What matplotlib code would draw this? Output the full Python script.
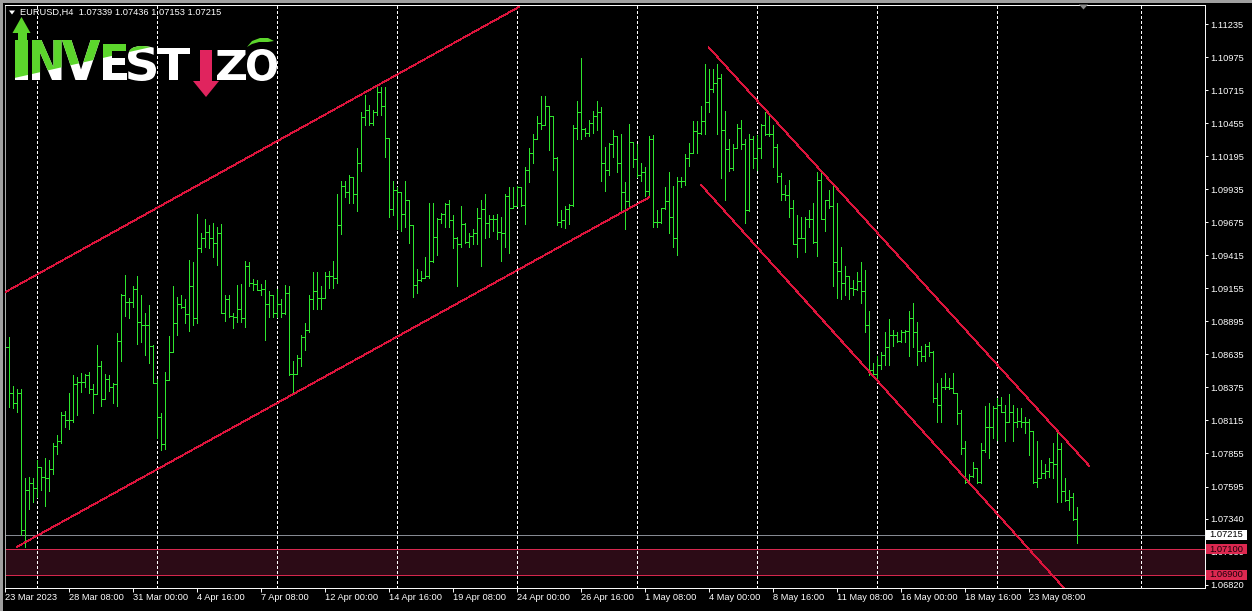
import numpy as np
import matplotlib
matplotlib.use("Agg")
import matplotlib.pyplot as plt
from matplotlib.collections import LineCollection
from matplotlib.patches import Rectangle, Polygon, PathPatch
from matplotlib.textpath import TextPath
from matplotlib.font_manager import FontProperties
from matplotlib.transforms import IdentityTransform, Affine2D, blended_transform_factory

W, H, DPI = 1252, 611, 100

symbol = "EURUSD,H4"

opens = [1.0899, 1.0869, 1.0833, 1.0825, 1.0833, 1.0725, 1.0757, 1.0762, 1.0758, 1.0775,
 1.0767, 1.0766, 1.0773, 1.0791, 1.0795, 1.0816, 1.0812, 1.0812, 1.0840, 1.0842,
 1.0842, 1.0847, 1.0836, 1.0832, 1.0854, 1.0828, 1.0844, 1.0838, 1.0840, 1.0874,
 1.0910, 1.0905, 1.0905, 1.0915, 1.0889, 1.0887, 1.0887, 1.0870, 1.0841, 1.0814,
 1.0793, 1.0843, 1.0865, 1.0888, 1.0903, 1.0901, 1.0895, 1.0917, 1.0892, 1.0947,
 1.0955, 1.0960, 1.0955, 1.0951, 1.0959, 1.0896, 1.0907, 1.0894, 1.0893, 1.0899,
 1.0892, 1.0933, 1.0920, 1.0919, 1.0914, 1.0915, 1.0903, 1.0910, 1.0896, 1.0903,
 1.0896, 1.0912, 1.0848, 1.0848, 1.0861, 1.0877, 1.0883, 1.0907, 1.0913, 1.0908,
 1.0908, 1.0925, 1.0925, 1.0924, 1.0965, 1.0996, 1.0991, 1.1003, 1.0990, 1.1014,
 1.1050, 1.1056, 1.1046, 1.1054, 1.1070, 1.1059, 1.1034, 1.0978, 1.0993, 1.0991,
 1.0974, 1.0985, 1.0965, 1.0918, 1.0922, 1.0924, 1.0925, 1.0937, 1.0956, 1.0970,
 1.0974, 1.0982, 1.0969, 1.0955, 1.0950, 1.0966, 1.0952, 1.0957, 1.0959, 1.0971,
 1.0978, 1.0967, 1.0970, 1.0970, 1.0960, 1.0959, 1.0988, 1.0979, 1.0980, 1.0995,
 1.0981, 1.1009, 1.1022, 1.1033, 1.1046, 1.1044, 1.1059, 1.1051, 1.1018, 1.0968,
 1.0969, 1.0978, 1.0981, 1.1042, 1.1054, 1.1041, 1.1038, 1.1046, 1.1051, 1.1054,
 1.1014, 1.1009, 1.1029, 1.1035, 1.1014, 1.0991, 1.0984, 1.1031, 1.1017, 1.1005,
 1.1007, 1.0992, 1.1033, 1.0968, 1.0968, 1.0979, 1.0984, 1.0972, 1.0955, 1.1000,
 1.1000, 1.1018, 1.1022, 1.1039, 1.1038, 1.1047, 1.1062, 1.1072, 1.1077, 1.1081,
 1.1040, 1.1025, 1.1010, 1.1026, 1.1042, 1.1029, 1.0977, 1.1033, 1.1018, 1.1026,
 1.1044, 1.1037, 1.1037, 1.1027, 1.1004, 1.0990, 1.0989, 1.0979, 1.0950, 1.0955,
 1.0955, 1.0970, 1.0970, 1.0952, 1.1001, 1.0970, 1.0985, 1.0980, 1.0936, 1.0929,
 1.0920, 1.0925, 1.0916, 1.0915, 1.0921, 1.0913, 1.0887, 1.0851, 1.0848, 1.0855,
 1.0863, 1.0869, 1.0879, 1.0879, 1.0874, 1.0881, 1.0882, 1.0892, 1.0881, 1.0866,
 1.0862, 1.0870, 1.0865, 1.0829, 1.0824, 1.0838, 1.0838, 1.0837, 1.0833, 1.0817,
 1.0790, 1.0763, 1.0768, 1.0774, 1.0763, 1.0788, 1.0806, 1.0806, 1.0821, 1.0824,
 1.0818, 1.0810, 1.0818, 1.0810, 1.0811, 1.0810, 1.0810, 1.0803, 1.0763, 1.0766,
 1.0770, 1.0772, 1.0779, 1.0777, 1.0789, 1.0756, 1.0749, 1.0751, 1.07339]

highs = [1.0908, 1.0877, 1.0839, 1.0836, 1.0836, 1.0766, 1.0767, 1.0766, 1.0780, 1.0775,
 1.0782, 1.0780, 1.0794, 1.0800, 1.0818, 1.0819, 1.0833, 1.0847, 1.0846, 1.0849,
 1.0848, 1.0850, 1.0840, 1.0871, 1.0858, 1.0848, 1.0847, 1.0841, 1.0880, 1.0911,
 1.0926, 1.0908, 1.0917, 1.0925, 1.0910, 1.0896, 1.0902, 1.0871, 1.0844, 1.0817,
 1.0850, 1.0878, 1.0917, 1.0909, 1.0910, 1.0907, 1.0938, 1.0936, 1.0974, 1.0959,
 1.0970, 1.0965, 1.0967, 1.0964, 1.0966, 1.0910, 1.0910, 1.0896, 1.0918, 1.0919,
 1.0937, 1.0936, 1.0923, 1.0922, 1.0919, 1.0922, 1.0913, 1.0910, 1.0915, 1.0907,
 1.0918, 1.0917, 1.0858, 1.0863, 1.0879, 1.0888, 1.0910, 1.0928, 1.0928, 1.0917,
 1.0928, 1.0929, 1.0937, 1.0990, 1.1000, 1.1000, 1.1005, 1.1003, 1.1026, 1.1054,
 1.1068, 1.1060, 1.1056, 1.1076, 1.1074, 1.1074, 1.1034, 1.1000, 1.0995, 1.0985,
 1.1000, 1.0985, 1.0957, 1.0931, 1.0929, 1.0940, 1.0983, 1.0983, 1.0971, 1.0975,
 1.0983, 1.0985, 1.0973, 1.0956, 1.0980, 1.0967, 1.0959, 1.0962, 1.0979, 1.0985,
 1.0990, 1.0973, 1.0973, 1.0974, 1.0972, 1.0990, 1.0995, 1.0995, 1.0996, 1.0995,
 1.1011, 1.1026, 1.1037, 1.1051, 1.1067, 1.1067, 1.1057, 1.1051, 1.1019, 1.0977,
 1.0980, 1.0982, 1.1044, 1.1063, 1.1097, 1.1042, 1.1048, 1.1055, 1.1063, 1.1058,
 1.1027, 1.1030, 1.1040, 1.1035, 1.1037, 1.0999, 1.1045, 1.1031, 1.1029, 1.1014,
 1.1011, 1.1035, 1.1036, 1.0977, 1.0979, 1.0995, 1.1007, 1.0996, 1.1003, 1.1003,
 1.1021, 1.1030, 1.1047, 1.1047, 1.1059, 1.1092, 1.1088, 1.1088, 1.1092, 1.1084,
 1.1055, 1.1033, 1.1029, 1.1045, 1.1048, 1.1033, 1.1037, 1.1035, 1.1036, 1.1045,
 1.1054, 1.1051, 1.1044, 1.1029, 1.1006, 1.0997, 1.1001, 1.0985, 1.0973, 1.0972,
 1.0972, 1.0977, 1.0983, 1.1007, 1.1007, 1.0985, 1.0993, 1.0998, 1.0983, 1.0948,
 1.0933, 1.0925, 1.0922, 1.0928, 1.0936, 1.0930, 1.0898, 1.0857, 1.0862, 1.0865,
 1.0881, 1.0891, 1.0883, 1.0881, 1.0883, 1.0883, 1.0898, 1.0904, 1.0889, 1.0870,
 1.0872, 1.0873, 1.0866, 1.0841, 1.0845, 1.0849, 1.0845, 1.0849, 1.0833, 1.0820,
 1.0795, 1.0769, 1.0779, 1.0774, 1.0794, 1.0823, 1.0825, 1.0823, 1.0829, 1.0830,
 1.0824, 1.0832, 1.0824, 1.0821, 1.0821, 1.0814, 1.0813, 1.0803, 1.0795, 1.0780,
 1.0777, 1.0782, 1.0794, 1.0803, 1.0794, 1.0766, 1.0757, 1.0754, 1.07436]

lows = [1.0863, 1.0822, 1.0821, 1.0818, 1.0721, 1.0712, 1.0742, 1.0747, 1.0751, 1.0757,
 1.0744, 1.0756, 1.0769, 1.0785, 1.0794, 1.0806, 1.0805, 1.0810, 1.0816, 1.0834,
 1.0838, 1.0833, 1.0817, 1.0833, 1.0823, 1.0828, 1.0835, 1.0825, 1.0823, 1.0858,
 1.0894, 1.0892, 1.0901, 1.0872, 1.0873, 1.0863, 1.0857, 1.0841, 1.0798, 1.0788,
 1.0789, 1.0843, 1.0865, 1.0879, 1.0900, 1.0888, 1.0882, 1.0887, 1.0888, 1.0944,
 1.0948, 1.0947, 1.0940, 1.0934, 1.0896, 1.0890, 1.0893, 1.0884, 1.0889, 1.0889,
 1.0885, 1.0917, 1.0914, 1.0914, 1.0910, 1.0875, 1.0893, 1.0893, 1.0893, 1.0893,
 1.0895, 1.0847, 1.0832, 1.0848, 1.0854, 1.0867, 1.0881, 1.0899, 1.0899, 1.0899,
 1.0908, 1.0916, 1.0916, 1.0920, 1.0958, 1.0987, 1.0983, 1.0983, 1.0976, 1.1008,
 1.1044, 1.1044, 1.1044, 1.1052, 1.1052, 1.1019, 1.0972, 1.0973, 1.0962, 1.0961,
 1.0964, 1.0951, 1.0909, 1.0912, 1.0921, 1.0924, 1.0924, 1.0936, 1.0942, 1.0967,
 1.0964, 1.0964, 1.0947, 1.0917, 1.0948, 1.0951, 1.0948, 1.0950, 1.0950, 1.0933,
 1.0955, 1.0956, 1.0961, 1.0954, 1.0937, 1.0948, 1.0943, 1.0979, 1.0980, 1.0980,
 1.0966, 1.0999, 1.1014, 1.1033, 1.1041, 1.1044, 1.1024, 1.1009, 1.0965, 1.0964,
 1.0963, 1.0966, 1.0980, 1.1033, 1.1033, 1.1035, 1.1035, 1.1038, 1.1040, 1.1000,
 1.0992, 1.1005, 1.1019, 1.1007, 1.0976, 1.0962, 1.0979, 1.1011, 1.1003, 1.1000,
 1.0988, 1.0988, 1.0964, 1.0964, 1.0967, 1.0978, 1.0959, 1.0948, 1.0942, 1.0995,
 1.0997, 1.1012, 1.1022, 1.1022, 1.1037, 1.1037, 1.1054, 1.1070, 1.1037, 1.1002,
 1.0985, 1.1008, 1.1009, 1.1026, 1.1025, 1.0967, 1.0976, 1.1010, 1.1009, 1.1018,
 1.1036, 1.1035, 1.1011, 1.0999, 1.0985, 1.0985, 1.0972, 1.0950, 1.0940, 1.0955,
 1.0944, 1.0964, 1.0951, 1.0941, 1.0970, 1.0961, 1.0979, 1.0917, 1.0908, 1.0907,
 1.0910, 1.0907, 1.0910, 1.0914, 1.0904, 1.0881, 1.0847, 1.0847, 1.0845, 1.0852,
 1.0855, 1.0855, 1.0870, 1.0873, 1.0873, 1.0873, 1.0862, 1.0869, 1.0855, 1.0858,
 1.0858, 1.0862, 1.0826, 1.0810, 1.0810, 1.0836, 1.0836, 1.0833, 1.0809, 1.0785,
 1.0762, 1.0762, 1.0767, 1.0762, 1.0762, 1.0787, 1.0782, 1.0798, 1.0796, 1.0818,
 1.0795, 1.0810, 1.0795, 1.0806, 1.0806, 1.0802, 1.0784, 1.0762, 1.0759, 1.0766,
 1.0766, 1.0767, 1.0766, 1.0747, 1.0747, 1.0748, 1.0741, 1.0733, 1.07153]

closes = [1.0869, 1.0833, 1.0825, 1.0833, 1.0725, 1.0757, 1.0762, 1.0758, 1.0775, 1.0767,
 1.0766, 1.0773, 1.0791, 1.0795, 1.0816, 1.0812, 1.0812, 1.0840, 1.0842, 1.0842,
 1.0847, 1.0836, 1.0832, 1.0854, 1.0828, 1.0844, 1.0838, 1.0840, 1.0874, 1.0910,
 1.0905, 1.0905, 1.0915, 1.0889, 1.0887, 1.0887, 1.0870, 1.0841, 1.0814, 1.0793,
 1.0843, 1.0865, 1.0888, 1.0903, 1.0901, 1.0895, 1.0917, 1.0892, 1.0947, 1.0955,
 1.0960, 1.0955, 1.0951, 1.0959, 1.0896, 1.0907, 1.0894, 1.0893, 1.0899, 1.0892,
 1.0933, 1.0920, 1.0919, 1.0914, 1.0915, 1.0903, 1.0910, 1.0896, 1.0903, 1.0896,
 1.0912, 1.0848, 1.0848, 1.0861, 1.0877, 1.0883, 1.0907, 1.0913, 1.0908, 1.0908,
 1.0925, 1.0925, 1.0924, 1.0965, 1.0996, 1.0991, 1.1003, 1.0990, 1.1014, 1.1050,
 1.1056, 1.1046, 1.1054, 1.1070, 1.1059, 1.1034, 1.0978, 1.0993, 1.0991, 1.0974,
 1.0985, 1.0965, 1.0918, 1.0922, 1.0924, 1.0925, 1.0937, 1.0956, 1.0970, 1.0974,
 1.0982, 1.0969, 1.0955, 1.0950, 1.0966, 1.0952, 1.0957, 1.0959, 1.0971, 1.0978,
 1.0967, 1.0970, 1.0970, 1.0960, 1.0959, 1.0988, 1.0979, 1.0980, 1.0995, 1.0981,
 1.1009, 1.1022, 1.1033, 1.1046, 1.1044, 1.1059, 1.1051, 1.1018, 1.0968, 1.0969,
 1.0978, 1.0981, 1.1042, 1.1054, 1.1041, 1.1038, 1.1046, 1.1051, 1.1054, 1.1014,
 1.1009, 1.1029, 1.1035, 1.1014, 1.0991, 1.0984, 1.1031, 1.1017, 1.1005, 1.1007,
 1.0992, 1.1033, 1.0968, 1.0968, 1.0979, 1.0984, 1.0972, 1.0955, 1.1000, 1.1000,
 1.1018, 1.1022, 1.1039, 1.1038, 1.1047, 1.1062, 1.1072, 1.1077, 1.1081, 1.1040,
 1.1025, 1.1010, 1.1026, 1.1042, 1.1029, 1.0977, 1.1033, 1.1018, 1.1026, 1.1044,
 1.1037, 1.1037, 1.1027, 1.1004, 1.0990, 1.0989, 1.0979, 1.0950, 1.0955, 1.0955,
 1.0970, 1.0970, 1.0952, 1.1001, 1.0970, 1.0985, 1.0980, 1.0936, 1.0929, 1.0920,
 1.0925, 1.0916, 1.0915, 1.0921, 1.0913, 1.0887, 1.0851, 1.0848, 1.0855, 1.0863,
 1.0869, 1.0879, 1.0879, 1.0874, 1.0881, 1.0882, 1.0892, 1.0881, 1.0866, 1.0862,
 1.0870, 1.0865, 1.0829, 1.0824, 1.0838, 1.0838, 1.0837, 1.0833, 1.0817, 1.0790,
 1.0763, 1.0768, 1.0774, 1.0763, 1.0788, 1.0806, 1.0806, 1.0821, 1.0824, 1.0818,
 1.0810, 1.0818, 1.0810, 1.0811, 1.0810, 1.0810, 1.0803, 1.0763, 1.0766, 1.0770,
 1.0772, 1.0779, 1.0777, 1.0789, 1.0756, 1.0749, 1.0751, 1.0734, 1.07215]

x_labels = ["23 Mar 2023", "28 Mar 08:00", "31 Mar 00:00", "4 Apr 16:00", "7 Apr 08:00",
            "12 Apr 00:00", "14 Apr 16:00", "19 Apr 08:00", "24 Apr 00:00", "26 Apr 16:00",
            "1 May 08:00", "4 May 00:00", "8 May 16:00", "11 May 08:00", "16 May 00:00",
            "18 May 16:00", "23 May 08:00"]
x_label_bars = [0, 16, 32, 48, 64, 80, 96, 112, 128, 144, 160, 176, 192, 208, 224, 240, 256]
week_grid_bars = [8, 38, 68, 98, 128, 158, 188, 218, 248, 284]
y_ticks = [1.11235, 1.10975, 1.10715, 1.10455, 1.10195, 1.09935, 1.09675, 1.09415, 1.09155,
           1.08895, 1.08635, 1.08375, 1.08115, 1.07855, 1.07595, 1.07340, 1.07080, 1.06820]
bid_price = 1.07215
zone_top, zone_bottom = 1.07100, 1.06900
up_upper = [(-0.3, 1.0912), (128.4, 1.1137)]
up_lower = [(2.9, 1.0712), (160.9, 1.0987)]
down_upper = [(175.9, 1.1105), (270.9, 1.0776)]
down_lower = [(173.9, 1.0997), (267.4, 1.0670)]

assert len(opens) == len(highs) == len(lows) == len(closes)

BAR = "#2ee62e"
RED = "#dc2850"
plt.rcParams["font.family"] = ["Liberation Sans", "DejaVu Sans"]
FS = 6.7

fig = plt.figure(figsize=(W / DPI, H / DPI), dpi=DPI, facecolor="black")
ax = fig.add_axes([4.5 / W, (H - 587.5) / H, 1200 / W, 583 / H], facecolor="black")
ax.set_xlim(-0.21, 299.8)
ax.set_ylim(1.06800, 1.11389)

# zone
ax.axhspan(zone_bottom, zone_top, color="#2c0b16", lw=0, zorder=0.5)
ax.axhline(zone_top, color=RED, lw=0.7, zorder=1)
ax.axhline(zone_bottom, color=RED, lw=0.7, zorder=1)
ax.axhline(bid_price, color="#8a8e96", lw=0.7, zorder=1)

# week grid
for b in week_grid_bars:
    ax.axvline(b, color="white", lw=0.7, ls=(0, (3, 3)), zorder=1.2, antialiased=False)

# OHLC bars
o = np.array(opens); h = np.array(highs); l = np.array(lows); c = np.array(closes)
idx = np.arange(len(c))
lo = np.minimum(l, np.minimum(o, c)); hi = np.maximum(h, np.maximum(o, c))
ax.vlines(idx, lo, hi, color=BAR, lw=0.55, antialiased=False, zorder=2)
seg_o = [[(i - 0.4, oo), (i, oo)] for i, oo in zip(idx, o)]
seg_c = [[(i, cc), (i + 0.4, cc)] for i, cc in zip(idx, c)]
ax.add_collection(LineCollection(seg_o + seg_c, colors=BAR, lw=0.55, antialiased=False, zorder=2))

# channels
for pts in (up_upper, up_lower, down_upper, down_lower):
    xs, ys = zip(*pts)
    ax.plot(xs, ys, color="#dc143c", lw=0.6, zorder=3, antialiased=False)

# axes styling
for s in ax.spines.values():
    s.set_color("white"); s.set_linewidth(0.7)
ax.spines["left"].set_color("#b0b0b0")
ax.yaxis.tick_right()
ax.set_yticks(y_ticks)
ax.set_yticklabels([f"{v:.5f}" for v in y_ticks])
ax.tick_params(axis="y", colors="white", length=2.3, width=0.7, pad=2.0, labelsize=FS, labelcolor="white")
ax.set_xticks(x_label_bars)
ax.set_xticklabels(x_labels, ha="left")
ax.tick_params(axis="x", colors="white", length=3, width=0.7, pad=0.6, labelsize=FS, labelcolor="white")
for t in ax.get_xticklabels():
    t.set_horizontalalignment("left")

# right price boxes
trans = blended_transform_factory(fig.transFigure, ax.transData)
box_h = 0.00078
for price, fc, tc in ((bid_price, "white", "black"), (zone_top, RED, "#1a0008"), (zone_bottom, RED, "#1a0008")):
    fig.add_artist(Rectangle((1206 / W, price - box_h / 2), 41 / W, box_h, transform=trans,
                             facecolor=fc, edgecolor="none", zorder=5))
    fig.text(1209 / W, price, f"{price:.5f}", transform=trans, color=tc, fontsize=FS,
             va="center", ha="left", zorder=6)

# frame strips
fig.add_artist(Rectangle((0, H - 3), W, 3, transform=IdentityTransform(), fc="#a0a0a0", ec="none", zorder=0.1))
fig.add_artist(Rectangle((0, 0), 3, H, transform=IdentityTransform(), fc="#a0a0a0", ec="none", zorder=0.1))

# header
fig.add_artist(Polygon([(9, H - 10.5), (15, H - 10.5), (12, H - 14.5)], closed=True,
                       transform=IdentityTransform(), fc="white", ec="none", zorder=7))
header = f"{symbol}  {opens[-1]:.5f} {highs[-1]:.5f} {lows[-1]:.5f} {closes[-1]:.5f}"
fig.text(20.5 / W, 1 - 12.5 / H, header, color="white", fontsize=FS, va="center", ha="left", zorder=7)

# shift marker
fig.add_artist(Polygon([(1079, H - 4.5), (1088, H - 4.5), (1083.5, H - 9.5)], closed=True,
                       transform=IdentityTransform(), fc="#8a8a8a", ec="none", zorder=7))

# logo
GREEN = "#5cd62c"; WHITE = "white"; PINK = "#e0245e"
fp = FontProperties(family="DejaVu Sans", weight="bold")
green_clip = Polygon([(0, H - 0), (160, H - 0), (160, H - 45), (10, H - 79)], closed=True,
                     transform=IdentityTransform())

def letter(ch, x0, x1, y0, y1, color, clip=None):
    tp = TextPath((0, 0), ch, size=100, prop=fp)
    e = tp.get_extents()
    tr = (Affine2D().translate(-e.x0, -e.y0)
          .scale((x1 - x0) / e.width, (y1 - y0) / e.height)
          .translate(x0, H - y1))
    p = PathPatch(tr.transform_path(tp), fc=color, ec="none", transform=IdentityTransform(), zorder=8)
    if clip is not None:
        p.set_clip_path(clip)
    fig.add_artist(p)

def poly(pts, color, clip=None):
    p = Polygon([(x, H - y) for x, y in pts], closed=True, transform=IdentityTransform(),
                fc=color, ec="none", zorder=8)
    if clip is not None:
        p.set_clip_path(clip)
    fig.add_artist(p)

# I with up arrow
poly([(15, 40), (28, 40), (28, 80), (15, 80)], WHITE)
poly([(15, 40), (28, 40), (28, 80), (15, 80)], GREEN, green_clip)
poly([(17.5, 32), (26.5, 32), (26.5, 41), (17.5, 41)], GREEN)
poly([(12.5, 33), (30.5, 33), (21.5, 17)], GREEN)
letters = [("N", 32, 61.5, 40, 80), ("V", 62, 100, 40, 80), ("E", 103, 126.5, 44, 80),
           ("S", 128, 156, 46, 81), ("T", 157, 190, 48, 80), ("Z", 217, 246, 50, 80),
           ("O", 247, 277, 49, 81)]
for ch, x0, x1, y0, y1 in letters:
    letter(ch, x0, x1, y0, y1, WHITE)
    if x0 < 160:
        letter(ch, x0, x1, y0, y1, GREEN, green_clip)
# pink i with down arrow
poly([(199.5, 50), (212, 50), (212, 82), (199.5, 82)], PINK)
poly([(193, 81), (219, 81), (206, 97)], PINK)
# green swoosh over O
poly([(247, 47), (252, 41), (260, 38), (268, 38), (274, 41), (268, 42), (259, 42), (252, 44)], GREEN)

fig.savefig("out.png", dpi=DPI, facecolor="black")
